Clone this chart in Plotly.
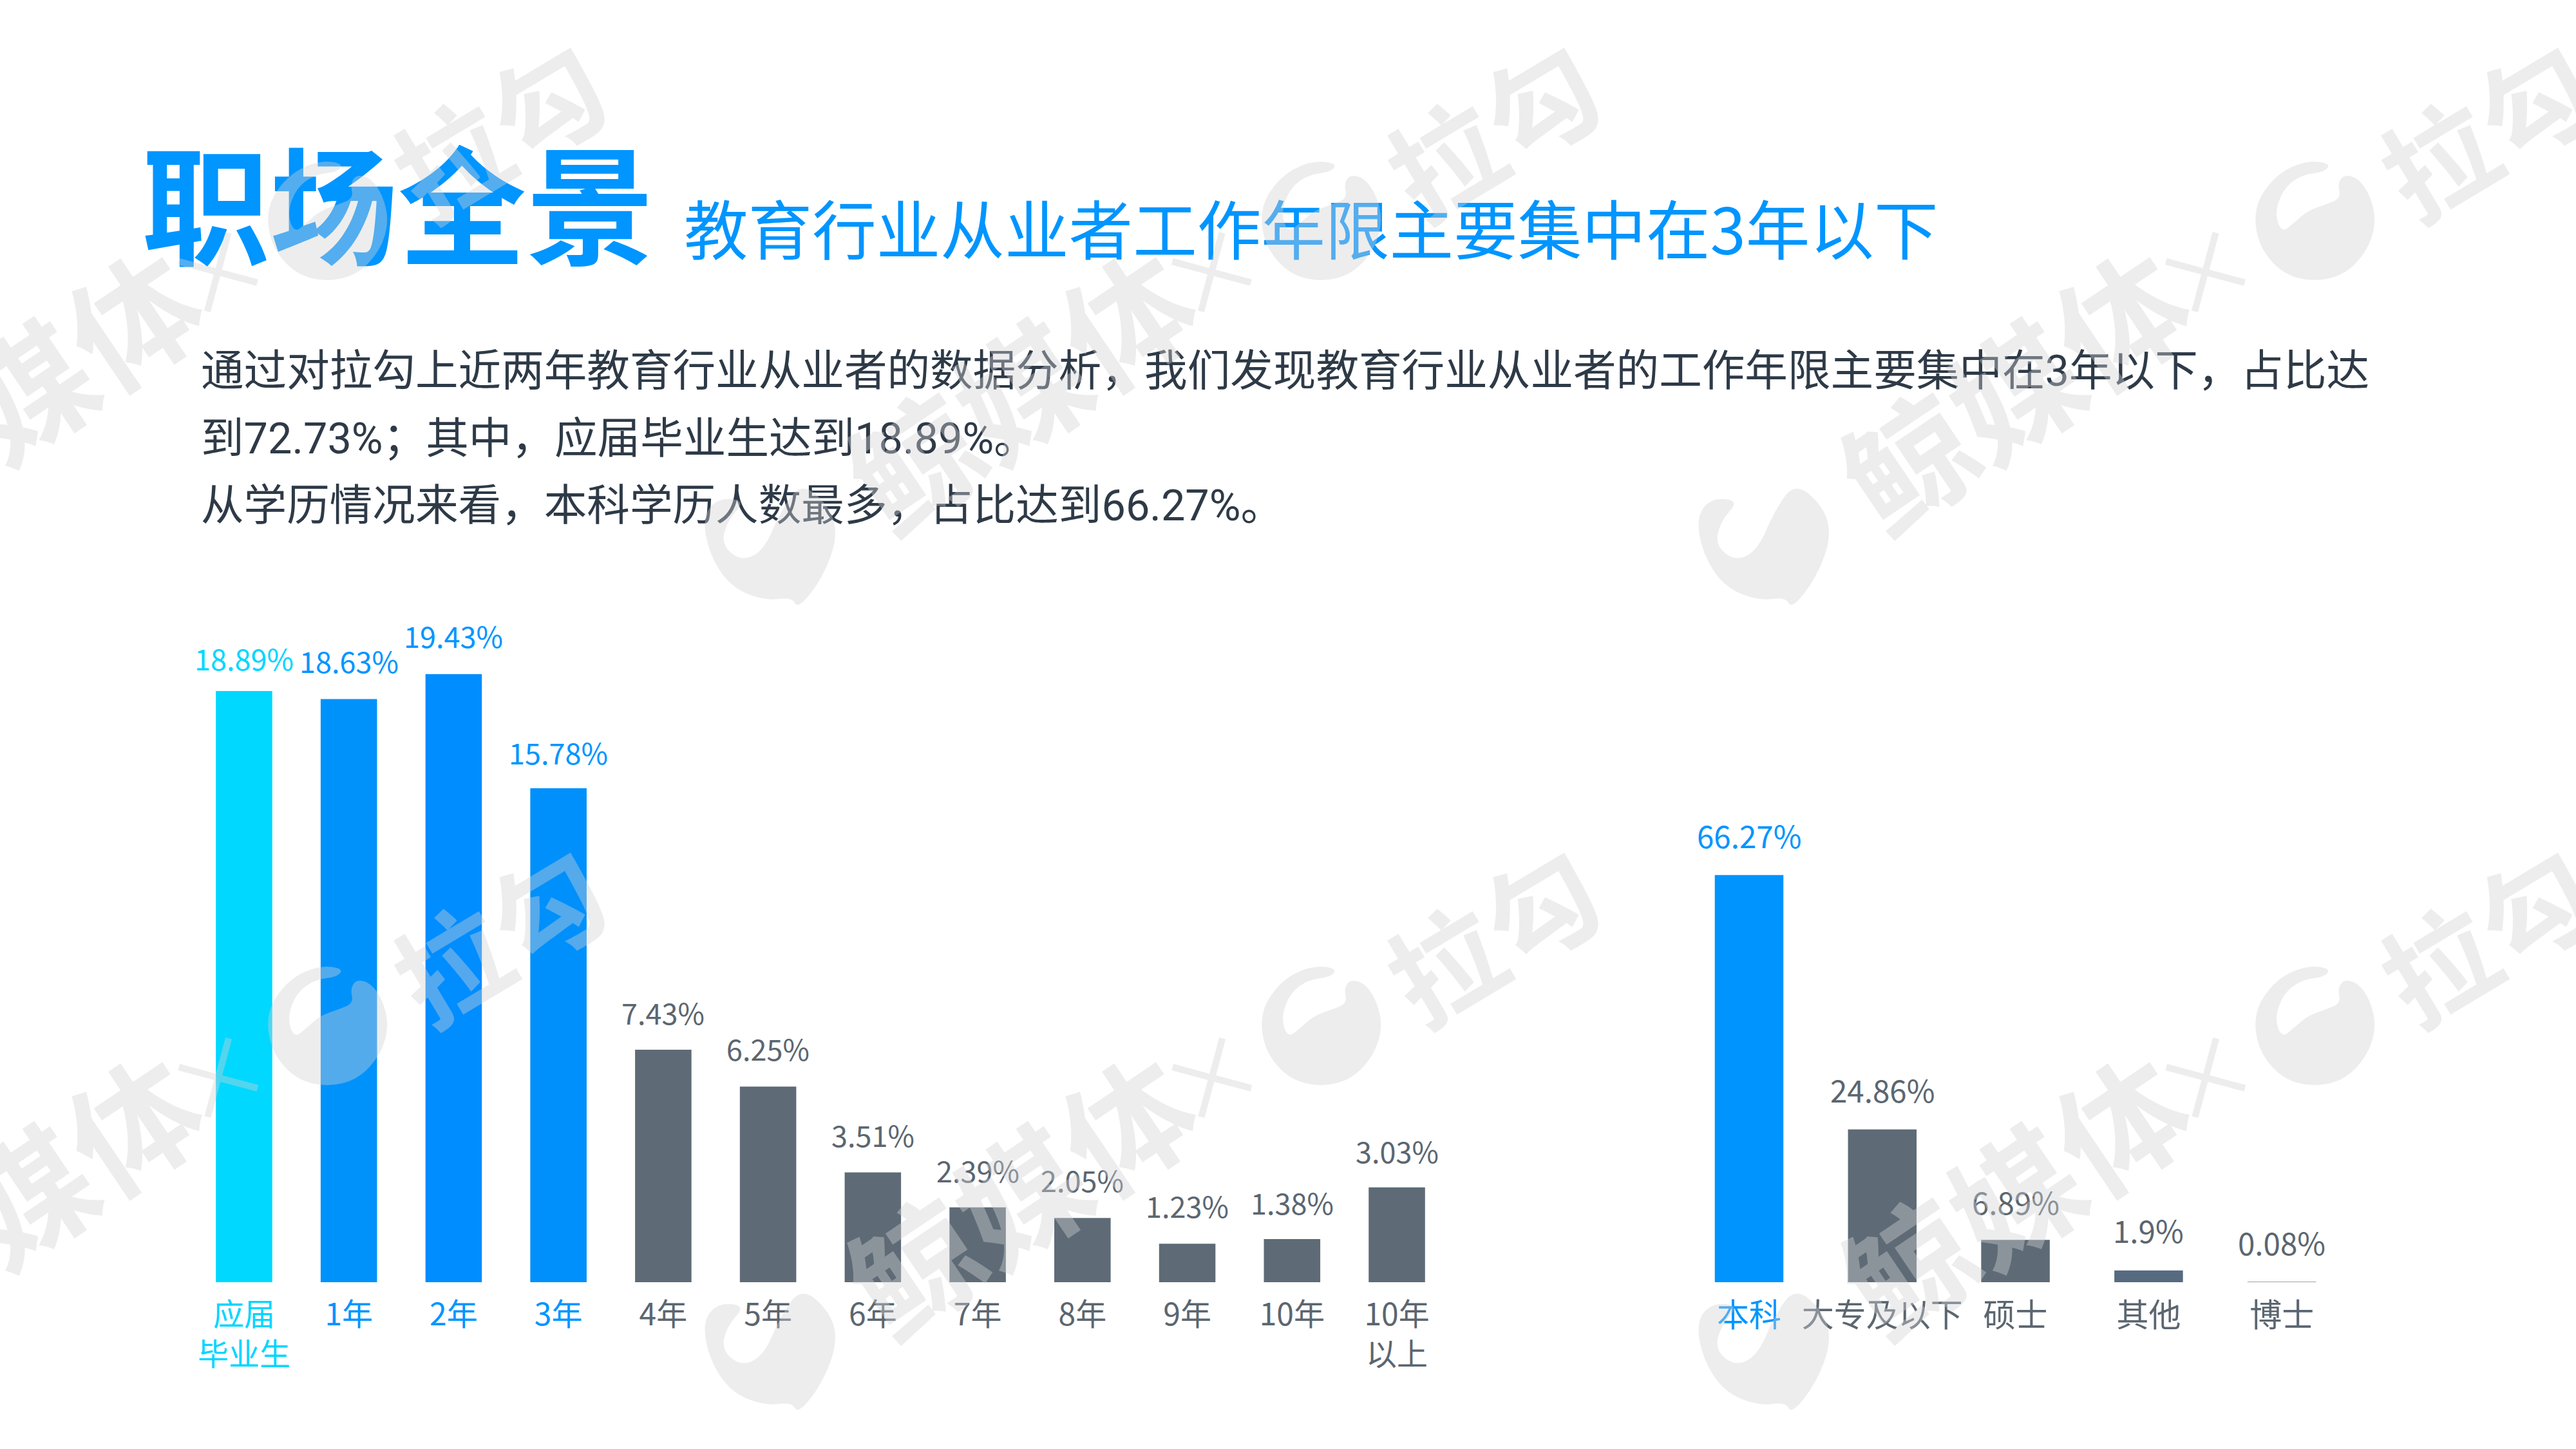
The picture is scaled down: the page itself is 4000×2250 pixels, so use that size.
import plotly.graph_objects as go

W = 4000
H = 2250
CJK = "Noto Sans CJK SC"

# data
year_labels = ["应届<br>毕业生", "1年", "2年", "3年", "4年", "5年", "6年", "7年", "8年", "9年", "10年", "10年<br>以上"]
year_values = [18.89, 18.63, 19.43, 15.78, 7.43, 6.25, 3.51, 2.39, 2.05, 1.23, 1.38, 3.03]
year_text = ["18.89%", "18.63%", "19.43%", "15.78%", "7.43%", "6.25%", "3.51%", "2.39%", "2.05%", "1.23%", "1.38%", "3.03%"]
edu_labels = ["本科", "大专及以下", "硕士", "其他", "博士"]
edu_values = [66.27, 24.86, 6.89, 1.9, 0.08]
edu_text = ["66.27%", "24.86%", "6.89%", "1.9%", "0.08%"]

title = "职场全景"
subtitle = "教育行业从业者工作年限主要集中在3年以下"
body_lines = [
    "通过对拉勾上近两年教育行业从业者的数据分析，我们发现教育行业从业者的工作年限主要集中在3年以下，占比达",
    "到72.73%；其中，应届毕业生达到18.89%。",
    "从学历情况来看，本科学历人数最多，占比达到66.27%。",
]

# colours
CYAN = "#00D6FF"
BLUE = "#0095FF"
GREY = "#5E6B76"
year_colors = ["#00D8FF", "#0092FB", "#008DFF", "#0090FB"] + [GREY] * 8
year_text_colors = [CYAN, BLUE, BLUE, BLUE] + ["#5B6670"] * 8
edu_colors = ["#0094FF", GREY, GREY, "#566A80", "#9AA4AE"]
edu_text_colors = [BLUE] + ["#5B6670"] * 4
year_gap = [51, 60, 60, 57, 58, 60, 59, 58, 60, 60, 57, 57]
edu_gap = [62, 62, 60, 63, 62]
WM_FILL = "rgba(210,210,213,0.40)"

BASE = 1991
TOP = 1000


def colored(labels, colors):
    return ['<span style="color:%s">%s</span>' % (c, t) for t, c in zip(labels, colors)]


fig = go.Figure()

fig.add_trace(go.Bar(x=year_labels, y=year_values, marker=dict(color=year_colors, line_width=0),
                     xaxis="x", yaxis="y", hoverinfo="skip", showlegend=False))
fig.add_trace(go.Bar(x=edu_labels, y=edu_values, marker=dict(color=edu_colors, line_width=0),
                     xaxis="x2", yaxis="y2", hoverinfo="skip", showlegend=False))

# headline and paragraph sit on a hidden page sized axis so the watermark covers them
fig.add_trace(go.Scatter(x=[220], y=[346], text=[title], mode="text", textposition="middle right",
                         textfont=dict(family=CJK, size=199, color=BLUE, weight=700),
                         xaxis="x3", yaxis="y3", hoverinfo="skip", showlegend=False))
fig.add_trace(go.Scatter(x=[1062], y=[370], text=[subtitle], mode="text", textposition="middle right",
                         textfont=dict(family=CJK, size=99.6, color=BLUE),
                         xaxis="x3", yaxis="y3", hoverinfo="skip", showlegend=False))
fig.add_trace(go.Scatter(x=[312, 312, 312], y=[582, 687, 791], text=body_lines, mode="text",
                         textposition="middle right",
                         textfont=dict(family="Roboto, " + CJK, size=66.6, color="#2E3A47"),
                         xaxis="x3", yaxis="y3", hoverinfo="skip", showlegend=False))

annotations = []
for label, val, txt, col, gap in zip(year_labels, year_values, year_text, year_text_colors, year_gap):
    annotations.append(dict(x=label, y=val, xref="x", yref="y", text=txt, showarrow=False, yanchor="middle",
                            yshift=gap, font=dict(family=CJK, size=45, color=col)))
for label, val, txt, col, gap in zip(edu_labels, edu_values, edu_text, edu_text_colors, edu_gap):
    annotations.append(dict(x=label, y=val, xref="x2", yref="y2", text=txt, showarrow=False, yanchor="middle",
                            yshift=gap, font=dict(family=CJK, size=47.5, color=col)))

# watermark tile, repeated over the page
logo_a = [(25, -88), (-10, -93), (-54, -75), (-86, -37), (-94, 1), (-83, 46), (-48, 84), (0, 96), (48, 84),
          (83, 46), (96, 1), (86, -40), (67, -66), (45, -71), (36, -56), (41, -34), (16, -24), (-10, -15),
          (-32, 4), (-51, 20), (-62, -11), (-48, -50), (-19, -71), (16, -75)]
logo_b = [(50, -99), (95, -60), (107, -13), (83, 51), (45, 99), (36, 80), (-7, 86), (-60, 64), (-93, 13),
          (-103, -45), (-79, -74), (-36, -70), (-65, -38), (-74, 0), (-41, 25), (-7, 6), (17, -51)]


def logo_path(pts, cx, cy):
    # rounded outline through the midpoints, in page fractions
    p = [((cx + a) / W, 1 - (cy + b) / H) for a, b in pts]
    n = len(p)
    mid = lambda i: ((p[i][0] + p[(i + 1) % n][0]) / 2, (p[i][1] + p[(i + 1) % n][1]) / 2)
    s = "M %f,%f" % mid(n - 1)
    for i in range(n):
        s += " Q %f,%f %f,%f" % (p[i][0], p[i][1], mid(i)[0], mid(i)[1])
    return s + " Z"


shapes = []
for cx in [-1038, 505, 2048, 3591, 5134]:
    for cy in [-913, 337, 1587, 2837]:
        for pts, dx, dy in [(logo_a, 3, 5), (logo_b, -854, 510)]:
            if -150 < cx + dx < W + 150 and -150 < cy + dy < H + 150:
                shapes.append(dict(type="path", xref="paper", yref="paper", layer="above",
                                   path=logo_path(pts, cx + dx, cy + dy), fillcolor=WM_FILL, line_width=0))
        for txt, dx, dy, size, angle, weight in [("拉勾", 267, -140, 172, -31, 700),
                                                 ("鲸媒体", -467, 262, 198, -34, 700),
                                                 ("×", -171, 78, 150, -30, 400)]:
            if -500 < cx + dx < W + 500 and -400 < cy + dy < H + 400:
                annotations.append(dict(x=(cx + dx) / W, y=1 - (cy + dy) / H, xref="paper", yref="paper",
                                        text=txt, showarrow=False, textangle=angle,
                                        xanchor="center", yanchor="middle",
                                        font=dict(family=CJK, size=size, color=WM_FILL, weight=weight)))

fig.update_layout(
    width=W,
    height=H,
    margin=dict(l=0, r=0, t=0, b=0),
    paper_bgcolor="white",
    plot_bgcolor="rgba(0,0,0,0)",
    showlegend=False,
    annotations=annotations,
    shapes=shapes,
    xaxis=dict(domain=[297.6 / W, 2250.4 / W], type="category", showgrid=False, zeroline=False, showline=False,
               ticks="", tickvals=year_labels, ticktext=colored(year_labels, year_text_colors), tickangle=0,
               tickfont=dict(family=CJK, size=48), ticklabelstandoff=18, anchor="y"),
    yaxis=dict(domain=[1 - BASE / H, 1 - TOP / H], range=[0, (BASE - TOP) / 48.6], visible=False, anchor="x"),
    xaxis2=dict(domain=[2612.6 / W, 3646.6 / W], type="category", showgrid=False, zeroline=False, showline=False,
                ticks="", tickvals=edu_labels, ticktext=colored(edu_labels, edu_text_colors), tickangle=0,
                tickfont=dict(family=CJK, size=50), ticklabelstandoff=18, anchor="y2"),
    yaxis2=dict(domain=[1 - BASE / H, 1 - TOP / H], range=[0, (BASE - TOP) / 9.54], visible=False, anchor="x2"),
    xaxis3=dict(domain=[0, 1], range=[0, W], visible=False, anchor="y3"),
    yaxis3=dict(domain=[0, 1], range=[H, 0], visible=False, anchor="x3"),
    bargap=0.462,
)
fig.update_traces(selector=dict(xaxis="x2"), width=0.515)

fig.write_html("out.html", config=dict(displayModeBar=False), post_script="document.body.style.margin='0';")
